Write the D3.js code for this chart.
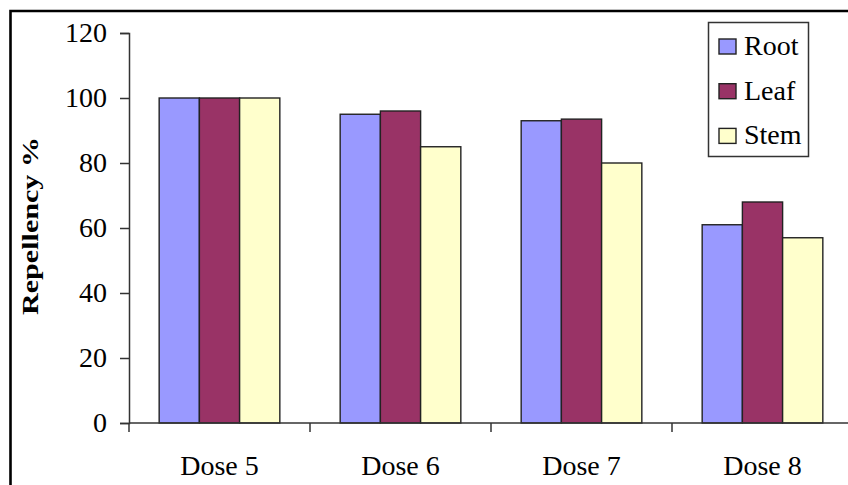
<!DOCTYPE html>
<html>
<head>
<meta charset="utf-8">
<script src="https://cdn.jsdelivr.net/npm/d3@7"></script>
<style>
  body { margin: 0; background: #fff; }
  svg text { font-family: "Times New Roman", "Liberation Serif", serif; fill: #000; }
</style>
</head>
<body>
<div id="chart"></div>
<script>
// data
let categories = ["Dose 5", "Dose 6", "Dose 7", "Dose 8"]
let series = ["Root", "Leaf", "Stem"]
let rootValues = [100, 95, 93, 61]
let leafValues = [100, 96, 93.5, 68]
let stemValues = [100, 85, 80, 57]
let yTicks = [0, 20, 40, 60, 80, 100, 120]
let palette = ["#9999FF", "#993366", "#FFFFCC"]

let allValues = [rootValues, leafValues, stemValues]

let width = 848, height = 485
let margin = {top: 33, left: 129, bottom: 62, right: -5}

let svg = d3.select("#chart")
  .append("svg")
    .attr("width", width)
    .attr("height", height)

// outer frame, cut by the page on the right and bottom
svg.append("path")
  .attr("d", "M10.5," + (height + 5) + " V11 H" + (width + 5))
  .attr("fill", "none")
  .attr("stroke", "#000")
  .attr("stroke-width", 2.6)

let x = d3.scaleBand()
  .domain(categories)
  .range([margin.left, width - margin.right])
  .padding(0)

let xSub = d3.scaleBand()
  .domain(series)
  .range([0, x.bandwidth()])
  .paddingInner(0)
  .paddingOuter(0.75)

let y = d3.scaleLinear()
  .domain([0, 120])
  .range([height - margin.bottom, margin.top])

// bars
let groups = svg.selectAll("g.layer")
  .data(categories)
  .enter().append("g")
    .attr("class", "layer")
    .attr("transform", function(d) { return "translate(" + x(d) + ",0)" })

groups.selectAll("rect")
  .data(function(d, i) { return series.map(function(s, j) { return {key: s, value: allValues[j][i], idx: j} }) })
  .enter().append("rect")
    .attr("x", function(d) { return xSub(d.key) })
    .attr("y", function(d) { return y(d.value) })
    .attr("width", xSub.bandwidth())
    .attr("height", function(d) { return y(0) - y(d.value) })
    .attr("fill", function(d) { return palette[d.idx] })
    .attr("stroke", "#222")
    .attr("stroke-width", 1.4)

// y axis
let yAxis = svg.append("g")
  .attr("transform", "translate(" + margin.left + ",0)")
  .call(d3.axisLeft(y).tickValues(yTicks).tickSize(9).tickPadding(13))
yAxis.selectAll("path, line").attr("stroke", "#333").attr("stroke-width", 1.5)
yAxis.selectAll("text").style("font-size", "28px").attr("fill", "#000")

// x axis line + boundary ticks
let xBase = y(0)
svg.append("line")
  .attr("x1", margin.left).attr("x2", width)
  .attr("y1", xBase).attr("y2", xBase)
  .attr("stroke", "#333").attr("stroke-width", 1.5)

let bounds = categories.map(function(d) { return x(d) }).concat([x.range()[1]])
svg.selectAll("line.xtick")
  .data(bounds)
  .enter().append("line")
    .attr("class", "xtick")
    .attr("x1", function(d) { return d }).attr("x2", function(d) { return d })
    .attr("y1", xBase).attr("y2", xBase + 9)
    .attr("stroke", "#333").attr("stroke-width", 1.5)

svg.selectAll("text.xlabel")
  .data(categories)
  .enter().append("text")
    .attr("class", "xlabel")
    .attr("x", function(d) { return x(d) + x.bandwidth() / 2 })
    .attr("y", xBase + 52)
    .attr("text-anchor", "middle")
    .style("font-size", "28px")
    .text(function(d) { return d })

// y label
svg.append("text")
  .attr("transform", "translate(38,226) rotate(-90)")
  .attr("text-anchor", "middle")
  .style("font-size", "24px")
  .style("font-weight", "bold")
  .attr("textLength", 178)
  .attr("lengthAdjust", "spacingAndGlyphs")
  .text("Repellency %")

// legend
svg.append("rect")
  .attr("x", 708.5).attr("y", 22.5)
  .attr("width", 100).attr("height", 134)
  .attr("fill", "#fff")
  .attr("stroke", "#333")
  .attr("stroke-width", 1.5)

let items = svg.selectAll("g.legend-item")
  .data(series)
  .enter().append("g")
    .attr("class", "legend-item")
    .attr("transform", function(d, i) { return "translate(719," + (39 + i * 44.7) + ")" })

items.append("rect")
  .attr("width", 17).attr("height", 15)
  .attr("fill", function(d, i) { return palette[i] })
  .attr("stroke", "#222")
  .attr("stroke-width", 1.4)

items.append("text")
  .attr("x", 25)
  .attr("y", 16)
  .style("font-size", "28px")
  .text(function(d) { return d })
</script>
</body>
</html>
